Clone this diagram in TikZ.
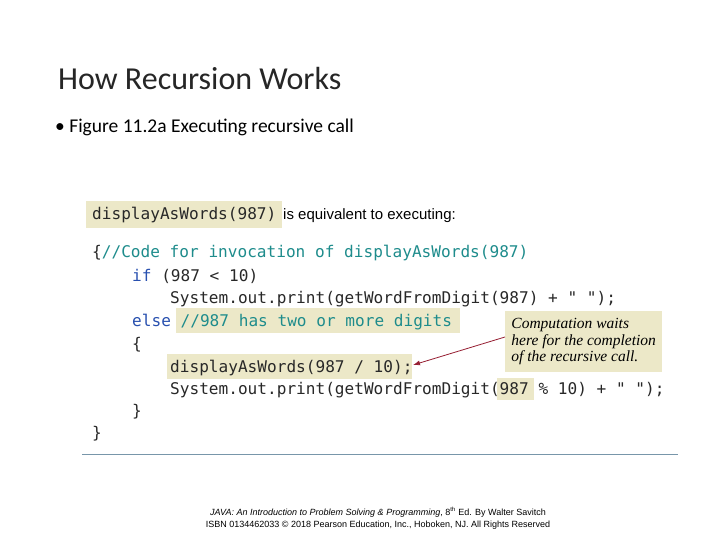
\documentclass[tikz,border=0pt]{standalone}
\usepackage{fontspec}
\usetikzlibrary{arrows.meta}
\setmainfont{Carlito}
\newfontfamily\codef{DejaVu Sans Mono}
\newfontfamily\serifit{Liberation Serif}
\newfontfamily\footf{Liberation Sans}
\definecolor{hl}{RGB}{236,232,200}
\definecolor{cmt}{RGB}{30,140,140}
\definecolor{kw}{RGB}{40,80,175}
\definecolor{codec}{RGB}{40,40,40}
\definecolor{arr}{RGB}{150,30,50}
\definecolor{rule}{RGB}{120,150,170}
\begin{document}
\begin{tikzpicture}[x=1pt,y=-1pt,
  code/.style={anchor=base west,inner sep=0pt,font=\codef\fontsize{16.1}{18}\selectfont,text=codec},
  hlbox/.style={fill=hl,draw=none}]
\useasboundingbox (0,0) rectangle (720,540);
\fill[white] (0,0) rectangle (720,540);
\node[anchor=base west,inner sep=0pt,font=\fontsize{32}{36}\selectfont,text=black!85] (title) at (58,90) {How Recursion Works};
\node[anchor=base west,inner sep=0pt,font=\fontsize{19.5}{22}\selectfont] (bul) at (55,133) {\textbullet\ Figure 11.2a Executing recursive call};
% highlights
\fill[hlbox] (86,201) rectangle (282,228);
\fill[hlbox] (176,308) rectangle (460,333);
\fill[hlbox] (167,354) rectangle (412,379);
\fill[hlbox] (497,378) rectangle (534,400);
\node[hlbox,anchor=north west,minimum width=157pt,minimum height=61pt,inner sep=0pt] (call) at (505,311) {};
\node[anchor=center,align=left,inner sep=0pt,font=\serifit\itshape\fontsize{15.5}{16.5}\selectfont] (calltxt) at (call.center) {Computation waits\\here for the completion\\of the recursive call.};
% code
\node[code] (l0) at (92,220) {displayAsWords(987)};
\node[anchor=base west,inner sep=0pt,font=\footf\fontsize{15}{18}\selectfont] (eq) at (283,220) {is equivalent to executing:};
\node[code] (l1) at (92,258) {\{\textcolor{cmt}{//Code for invocation of displayAsWords(987)}};
\node[code] (l2) at (132,281) {\textcolor{kw}{if} (987 < 10)};
\node[code] (l3) at (170,303) {System.out.print(getWordFromDigit(987) + " ");};
\node[code] (l4) at (132,326) {\textcolor{kw}{else} \textcolor{cmt}{//987 has two or more digits}};
\node[code] (l5) at (132,349) {\{};
\node[code] (l6) at (170,372) {displayAsWords(987 / 10);};
\node[code] (l7) at (170,394) {System.out.print(getWordFromDigit(987 \% 10) + " ");};
\node[code] (l8) at (132,416) {\}};
\node[code] (l9) at (92,438) {\}};
\coordinate (ae) at (413,365);
\draw[arr,line width=0.8pt,-{Latex[length=7pt,width=5pt]}] (call.west |- 0,337) -- (ae);
\draw[rule,line width=0.8pt] (82,454) -- (678,454);
\node[anchor=base,inner sep=0pt,font=\footf\fontsize{9}{10}\selectfont] (f1) at (378,515) {\textit{JAVA: An Introduction to Problem Solving \& Programming}, 8\textsuperscript{th} Ed. By Walter Savitch};
\node[anchor=base,inner sep=0pt,font=\footf\fontsize{9}{10}\selectfont] (f2) at (378,527) {ISBN 0134462033 \textcopyright\ 2018 Pearson Education, Inc., Hoboken, NJ. All Rights Reserved};
\end{tikzpicture}
\end{document}
